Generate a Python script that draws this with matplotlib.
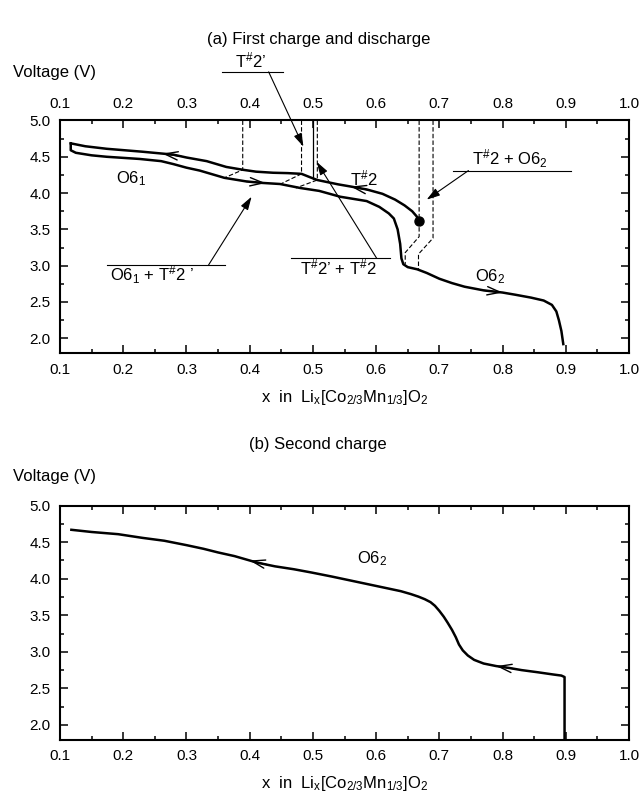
import numpy as np
import matplotlib
matplotlib.use("Agg")
import matplotlib.pyplot as plt
from matplotlib.ticker import MultipleLocator

plt.rcParams['font.family'] = ['Liberation Sans', 'DejaVu Sans']
plt.rcParams['mathtext.fontset'] = 'custom'
plt.rcParams['mathtext.rm'] = 'Liberation Sans'
plt.rcParams['mathtext.it'] = 'Liberation Sans'
plt.rcParams['mathtext.default'] = 'regular'

# ---- (a) first charge (upper branch, from the dot leftwards) ----
charge1_x = [0.668, 0.664, 0.657, 0.645, 0.630, 0.610, 0.585, 0.560, 0.540, 0.507,
             0.495, 0.482, 0.460, 0.437, 0.410, 0.390, 0.363, 0.332, 0.300, 0.279,
             0.230, 0.174, 0.140, 0.117]
charge1_v = [3.61, 3.68, 3.75, 3.83, 3.91, 3.99, 4.05, 4.09, 4.12, 4.18,
             4.22, 4.265, 4.275, 4.28, 4.295, 4.32, 4.36, 4.44, 4.49, 4.53,
             4.57, 4.61, 4.645, 4.685]

# ---- (a) first discharge (lower branch, left to right) ----
dis1_x = [0.117, 0.117, 0.125, 0.150, 0.174, 0.226, 0.260, 0.279, 0.300, 0.321,
          0.360, 0.395, 0.420, 0.448, 0.480, 0.510, 0.543, 0.585, 0.605, 0.620,
          0.628, 0.634, 0.638, 0.640, 0.643, 0.650, 0.665, 0.680, 0.700, 0.720,
          0.740, 0.770, 0.800, 0.820, 0.845, 0.865, 0.878, 0.885, 0.889, 0.893, 0.896]
dis1_v = [4.685, 4.59, 4.555, 4.52, 4.50, 4.47, 4.44, 4.40, 4.35, 4.31,
          4.21, 4.16, 4.14, 4.125, 4.07, 4.03, 3.95, 3.89, 3.81, 3.72,
          3.65, 3.50, 3.30, 3.10, 3.02, 2.98, 2.95, 2.90, 2.82, 2.76,
          2.71, 2.66, 2.63, 2.60, 2.56, 2.52, 2.46, 2.37, 2.25, 2.10, 1.92]

# phase-boundary guide lines (dashed) in panel (a)
guide_lines = [
    ([0.389, 0.389, 0.360], [5.0, 4.32, 4.21]),
    ([0.482, 0.482, 0.450], [5.0, 4.265, 4.13]),
    ([0.507, 0.507, 0.473], [5.0, 4.18, 4.07]),
    ([0.668, 0.668, 0.646, 0.646], [5.0, 3.40, 3.18, 3.02]),
    ([0.690, 0.690, 0.667, 0.667], [5.0, 3.38, 3.16, 2.95]),
]
solid_guide = ([0.500, 0.500], [5.0, 4.20])
start_point = (0.668, 3.61)

# ---- (b) second charge ----
ch2_x = [0.898, 0.898, 0.893, 0.880, 0.856, 0.830, 0.810, 0.790, 0.770, 0.755,
         0.745, 0.737, 0.731, 0.726, 0.720, 0.713, 0.707, 0.700, 0.693, 0.686,
         0.677, 0.667, 0.655, 0.639, 0.620, 0.590, 0.560, 0.530, 0.498, 0.470,
         0.440, 0.412, 0.376, 0.350, 0.327, 0.300, 0.265, 0.230, 0.192, 0.150, 0.118]
ch2_v = [1.80, 2.655, 2.675, 2.69, 2.72, 2.75, 2.78, 2.805, 2.84, 2.89,
         2.95, 3.02, 3.10, 3.20, 3.30, 3.40, 3.48, 3.56, 3.63, 3.68,
         3.72, 3.755, 3.79, 3.83, 3.865, 3.92, 3.975, 4.03, 4.085, 4.13,
         4.17, 4.22, 4.31, 4.36, 4.41, 4.46, 4.52, 4.56, 4.61, 4.64, 4.67]

xticks = [0.1, 0.2, 0.3, 0.4, 0.5, 0.6, 0.7, 0.8, 0.9, 1.0]
yticks = [2.0, 2.5, 3.0, 3.5, 4.0, 4.5, 5.0]
xlabel = 'x  in  Li$_x$[Co$_{2/3}$Mn$_{1/3}$]O$_2$'

LW = 1.8
FS = 11

fig = plt.figure(figsize=(6.43, 8.0), dpi=100)
ax1 = fig.add_axes([0.0933, 0.559, 0.885, 0.2904])
ax2 = fig.add_axes([0.0933, 0.0756, 0.885, 0.2923])


def style(ax, top_labels):
    ax.set_xlim(0.1, 1.0)
    ax.set_ylim(1.8, 5.0)
    ax.set_xticks(xticks)
    ax.set_yticks(yticks)
    ax.set_xticklabels([f'{t:.1f}' for t in xticks])
    ax.set_yticklabels([f'{t:.1f}' for t in yticks])
    ax.xaxis.set_minor_locator(MultipleLocator(0.05))
    ax.yaxis.set_minor_locator(MultipleLocator(0.25))
    ax.tick_params(which='both', direction='in', top=True, right=True,
                   labeltop=top_labels, width=1.1, labelsize=FS, pad=7)
    ax.tick_params(which='major', length=6)
    ax.tick_params(which='minor', length=3)
    for s in ax.spines.values():
        s.set_linewidth(1.5)
    ax.set_xlabel(xlabel, fontsize=FS + 1, labelpad=8)


def curve_arrow(ax, xs, vs, x0, direction, span=0.03):
    """Open arrowhead sitting on a curve at x0, pointing left (-1) or right (+1)."""
    order = np.argsort(xs)
    xa = np.asarray(xs)[order]
    va = np.asarray(vs)[order]
    x_tail = x0 - direction * span
    ax.annotate('', xy=(x0, np.interp(x0, xa, va)),
                xytext=(x_tail, np.interp(x_tail, xa, va)),
                arrowprops=dict(arrowstyle='->,head_length=0.95,head_width=0.3',
                                lw=1.0, color='black', shrinkA=0, shrinkB=0))


def pointer(ax, xy_from, xy_to):
    ax.annotate('', xy=xy_to, xytext=xy_from, annotation_clip=False,
                arrowprops=dict(arrowstyle='-|>,head_length=0.8,head_width=0.25',
                                lw=0.8, color='black', shrinkA=0, shrinkB=0))


# ---------------- panel (a) ----------------
style(ax1, True)
for gx, gv in guide_lines:
    ax1.plot(gx, gv, color='black', lw=0.8, ls=(0, (4, 2)))
ax1.plot(*solid_guide, color='black', lw=0.9)
ax1.plot(charge1_x, charge1_v, color='black', lw=LW, solid_joinstyle='round')
ax1.plot(dis1_x, dis1_v, color='black', lw=LW, solid_joinstyle='round')
ax1.plot(*start_point, 'o', color='black', ms=6.5)

curve_arrow(ax1, charge1_x, charge1_v, 0.262, -1)
curve_arrow(ax1, charge1_x, charge1_v, 0.560, -1)
curve_arrow(ax1, dis1_x, dis1_v, 0.425, +1)
curve_arrow(ax1, dis1_x, dis1_v, 0.800, +1)

ax1.text(0.213, 4.20, 'O6$_1$', fontsize=FS + 1, ha='center', va='center')
ax1.text(0.580, 4.20, 'T$^{\\#}$2', fontsize=FS + 1, ha='center', va='center')
ax1.text(0.780, 2.85, 'O6$_2$', fontsize=FS + 1, ha='center', va='center')

# O6_1 + T#2'
ax1.plot([0.174, 0.361], [3.01, 3.01], color='black', lw=0.8)
ax1.text(0.245, 2.88, 'O6$_1$ + T$^{\\#}$2 ’', fontsize=FS + 1, ha='center', va='center')
pointer(ax1, (0.335, 3.01), (0.403, 3.95))

# T#2' + T#2
ax1.plot([0.465, 0.622], [3.10, 3.10], color='black', lw=0.8)
ax1.text(0.540, 2.98, 'T$^{\\#}$2’ + T$^{\\#}$2', fontsize=FS + 1, ha='center', va='center')
pointer(ax1, (0.601, 3.10), (0.506, 4.43))

# T#2 + O6_2
ax1.plot([0.722, 0.908], [4.31, 4.31], color='black', lw=0.8)
ax1.text(0.812, 4.48, 'T$^{\\#}$2 + O6$_2$', fontsize=FS + 1, ha='center', va='center')
pointer(ax1, (0.746, 4.31), (0.680, 3.91))

# T#2' above the frame
ax1.plot([0.356, 0.452], [5.67, 5.67], color='black', lw=0.8, clip_on=False)
ax1.text(0.402, 5.83, 'T$^{\\#}$2’', fontsize=FS + 1, ha='center', va='center')
pointer(ax1, (0.430, 5.67), (0.485, 4.64))

fig.text(0.495, 0.951, '(a) First charge and discharge', fontsize=FS + 1,
         ha='center', va='center')
fig.text(0.02, 0.91, 'Voltage (V)', fontsize=FS + 1, ha='left', va='center')

# ---------------- panel (b) ----------------
style(ax2, False)
ax2.plot(ch2_x, ch2_v, color='black', lw=LW, solid_joinstyle='round')
curve_arrow(ax2, ch2_x, ch2_v, 0.400, -1)
curve_arrow(ax2, ch2_x, ch2_v, 0.790, -1)
ax2.text(0.593, 4.27, 'O6$_2$', fontsize=FS + 1, ha='center', va='center')

fig.text(0.495, 0.445, '(b) Second charge', fontsize=FS + 1, ha='center', va='center')
fig.text(0.02, 0.405, 'Voltage (V)', fontsize=FS + 1, ha='left', va='center')

fig.savefig('out.png', dpi=100)
